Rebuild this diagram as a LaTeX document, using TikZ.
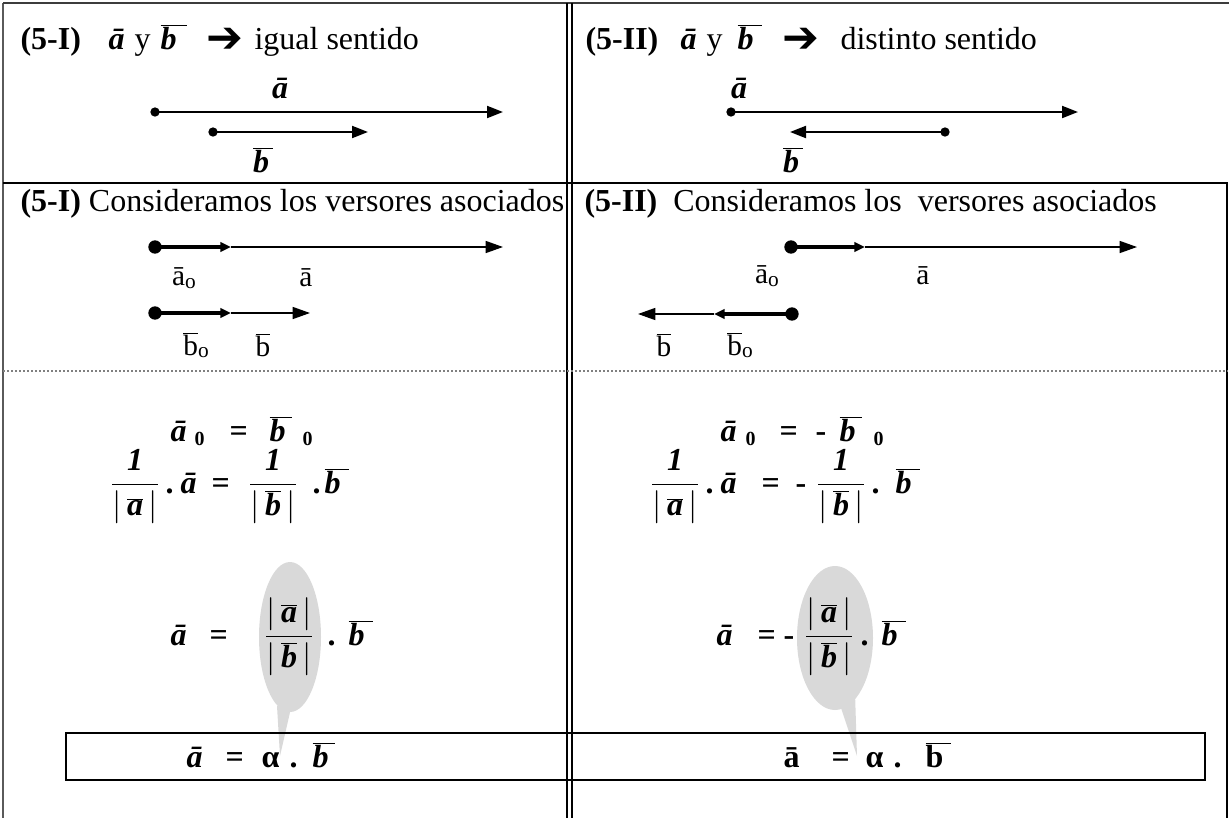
\documentclass[tikz,border=0pt]{standalone}
\usepackage{fontspec}
\setmainfont{Liberation Serif}
\newfontfamily\arrowfont{DejaVu Sans}
\usetikzlibrary{arrows.meta}

\newcommand{\bi}{\bfseries\itshape}
\newcommand{\va}{{\bi ā}}
\newcommand{\vbk}[1]{$\overline{\hbox{\bi b\kern#1}}$}
\newcommand{\vb}{\vbk{3pt}}
\newcommand{\vbup}{$\overline{\hbox{\bfseries b\kern6pt}}$}
\newcommand{\modv}[1]{\left|\,\overline{\hbox{\bi #1}}\,\right|}
\newcommand{\subz}{\raisebox{-3pt}{\fontsize{15}{15}\selectfont\bfseries 0}}
\newcommand{\subo}{\raisebox{-2pt}{\fontsize{16}{16}\selectfont o}}
\newcommand{\lbar}[1]{$\overline{\hbox{#1}}$}

\tikzset{every picture/.style={line width=0.75pt}}
\tikzset{
  txt/.style={inner sep=0pt, font=\fontsize{24}{29}\selectfont},
  eqn/.style={inner sep=0pt, anchor=base west, font=\fontsize{24}{29}\selectfont\bfseries},
  frc/.style={inner sep=0pt, anchor=base, font=\fontsize{24}{29}\selectfont},
  lbl/.style={inner sep=0pt, font=\fontsize{22}{26}\selectfont},
  hdarr/.style={inner sep=0pt, anchor=base west, font=\arrowfont\fontsize{33}{38}\selectfont\bfseries},
  vec/.style={line width=1.5pt, -{Triangle[length=12pt,width=9pt]}},
  unitvec/.style={line width=3.5pt, -{Triangle[length=8pt,width=7pt]}},
  thinvec/.style={line width=1.1pt, -{Triangle[length=13pt,width=9pt]}},
  frame/.style={line width=1.5pt},
  bubble/.style={fill={rgb,255:red,217;green,217;blue,217}},
}

\begin{document}
\begin{tikzpicture}[x=0.75pt,y=0.75pt,yscale=-1,xscale=1]
  \useasboundingbox (0,0) rectangle (1229,818);

  %Table frame
  \draw [frame, color={rgb, 255:red, 90; green, 90; blue, 90 }] (3,3) -- (3,818) ;
  \draw [frame, color={rgb, 255:red, 60; green, 60; blue, 60 }] (3,3) -- (1229,3) ;
  \draw [frame] (567,3) -- (567,818) ;
  \draw [frame] (572,3) -- (572,818) ;
  \draw [line width=2pt] (3,183) -- (1228,183) ;
  \draw [frame] (1227,183) -- (1227,818) ;
  \draw [color=gray, line width=1.2pt, dash pattern={on 1.5pt off 1.5pt}] (3,371) -- (1228,371) ;

  %Row 1 headings
  \node [eqn, font=\fontsize{24}{29}\selectfont] (numIa) at (20,49) {\textbf{(5-I)}};
  \node [eqn] (hIa) at (108,49) {\va};
  \node [eqn, font=\fontsize{24}{29}\selectfont] (hIy) at (134,49) {y};
  \node [eqn] (hIb) at (160,49) {\vbk{8pt}};
  \node [hdarr] (hIarr) at (206,52) {➔};
  \node [eqn, font=\fontsize{24}{29}\selectfont] (hIt) at (254,49) {igual sentido};
  \node [eqn, font=\fontsize{24}{29}\selectfont] (numIIa) at (585,49) {\textbf{(5-II)}};
  \node [eqn] (hIIa) at (680,49) {\va};
  \node [eqn, font=\fontsize{24}{29}\selectfont] (hIIy) at (706,49) {y};
  \node [eqn] (hIIb) at (737,49) {\vbk{6pt}};
  \node [hdarr] (hIIarr) at (782,52) {➔};
  \node [eqn, font=\fontsize{24}{29}\selectfont] (hIIt) at (840,49) {distinto sentido};

  %Row 1 vectors, same sense
  \coordinate (aIs) at (155,112); \coordinate (aIe) at (503,112);
  \coordinate (bIs) at (213,132); \coordinate (bIe) at (368,132);
  \fill (aIs) circle (3.5pt); \draw [vec] (aIs) -- (aIe) ;
  \fill (bIs) circle (3.5pt); \draw [vec] (bIs) -- (bIe) ;
  \node [txt] (laI) at (280,88) {\va};
  \node [txt] (lbI) at (263,160) {\vb};

  %Row 1 vectors, opposite sense
  \coordinate (aIIs) at (731,112); \coordinate (aIIe) at (1078,112);
  \coordinate (bIIs) at (945,132); \coordinate (bIIe) at (790,132);
  \fill (aIIs) circle (3.5pt); \draw [vec] (aIIs) -- (aIIe) ;
  \fill (bIIs) circle (3.5pt); \draw [vec] (bIIs) -- (bIIe) ;
  \node [txt] (laII) at (739,88) {\va};
  \node [txt] (lbII) at (793,160) {\vb};

  %Row 2 headings
  \node [txt, anchor=base west] (headIb) at (20,211) {\textbf{(5-I)} Consideramos los versores asociados};
  \node [txt, anchor=base west] (headIIb) at (584,211) {\textbf{(5-II)}\ \ Consideramos los\ \ versores asociados};

  %Row 2 versors, same sense
  \coordinate (vaIs) at (155,247); \coordinate (vaIm) at (231,247); \coordinate (vaIe) at (503,247);
  \coordinate (vbIs) at (155,313); \coordinate (vbIm) at (231,313); \coordinate (vbIe) at (310,313);
  \fill (vaIs) circle (5pt); \draw [unitvec] (vaIs) -- (vaIm) ; \draw [thinvec] (vaIm) -- (vaIe) ;
  \fill (vbIs) circle (5pt); \draw [unitvec] (vbIs) -- (vbIm) ; \draw [thinvec] (vbIm) -- (vbIe) ;
  \node [lbl] (laoI) at (184,278) {ā\subo};
  \node [lbl] (laI2) at (306,278) {ā};
  \node [lbl] (lboI) at (196,345) {\lbar{b}\subo};
  \node [lbl] (lbI2) at (263,345) {\lbar{b}};

  %Row 2 versors, opposite sense
  \coordinate (vaIIs) at (791,247); \coordinate (vaIIm) at (865,247); \coordinate (vaIIe) at (1137,247);
  \coordinate (vbIIs) at (792,314); \coordinate (vbIIm) at (714,314); \coordinate (vbIIe) at (638,314);
  \fill (vaIIs) circle (5pt); \draw [unitvec] (vaIIs) -- (vaIIm) ; \draw [thinvec] (vaIIm) -- (vaIIe) ;
  \fill (vbIIs) circle (5pt); \draw [unitvec] (vbIIs) -- (vbIIm) ; \draw [thinvec] (vbIIm) -- (vbIIe) ;
  \node [lbl] (laoII) at (767,276) {ā\subo};
  \node [lbl] (laII2) at (923,276) {ā};
  \node [lbl] (lbII2) at (664,345) {\lbar{b}};
  \node [lbl] (lboII) at (740,345) {\lbar{b}\subo};

  %Callout bubbles
  \fill [bubble] (290,637) ellipse [x radius=31, y radius=75];
  \fill [bubble] (277,706) -- (291,708) -- (280,756) -- cycle;
  \fill [bubble] (835,638) ellipse [x radius=38, y radius=72];
  \fill [bubble] (839,702) -- (855,692) -- (857,756) -- cycle;

  %Result box
  \draw [line width=2pt] (66,733) rectangle (1205,780) ;

  %Equations, same sense
  \node [eqn] (a0I) at (170,441) {\va};
  \node [eqn] (s0I) at (194,441) {\subz};
  \node [eqn] (q0I) at (229,441) {=};
  \node [eqn] (b0I) at (269,441) {\vbk{5pt}};
  \node [eqn] (t0I) at (302,441) {\subz};
  \node [frc] (f1I) at (135,493) {$\displaystyle\frac{\hbox{\bi 1}}{\modv{a}}$};
  \node [eqn] (d1I) at (165,493) {.};
  \node [eqn] (a1I) at (180,493) {\va};
  \node [eqn] (q1I) at (211,493) {=};
  \node [frc] (f2I) at (273,493) {$\displaystyle\frac{\hbox{\bi 1}}{\modv{b}}$};
  \node [eqn] (d2I) at (312,493) {.};
  \node [eqn] (b1I) at (324,493) {\vbk{6pt}};
  \node [eqn] (a2I) at (170,645) {\va};
  \node [eqn] (q2I) at (209,645) {=};
  \node [frc] (f3I) at (289,645) {$\displaystyle\frac{\modv{a}}{\modv{b}}$};
  \node [eqn] (d3I) at (327,645) {.};
  \node [eqn] (b2I) at (348,645) {\vbk{6pt}};
  \node [eqn] (a3I) at (186,767) {\va};
  \node [eqn] (q3I) at (225,767) {=};
  \node [eqn] (alI) at (261,767) {α};
  \node [eqn] (d4I) at (289,767) {.};
  \node [eqn] (b3I) at (312,767) {\vbk{5pt}};

  %Equations, opposite sense
  \node [eqn] (a0II) at (720,441) {\va};
  \node [eqn] (s0II) at (745,441) {\subz};
  \node [eqn] (q0II) at (779,441) {=};
  \node [eqn] (m0II) at (815,441) {-};
  \node [eqn] (b0II) at (839,441) {\vbk{5pt}};
  \node [eqn] (t0II) at (873,441) {\subz};
  \node [frc] (f1II) at (675,493) {$\displaystyle\frac{\hbox{\bi 1}}{\modv{a}}$};
  \node [eqn] (d1II) at (705,493) {.};
  \node [eqn] (a1II) at (720,493) {\va};
  \node [eqn] (q1II) at (761,493) {=};
  \node [eqn] (m1II) at (795,493) {-};
  \node [frc] (f2II) at (841,493) {$\displaystyle\frac{\hbox{\bi 1}}{\modv{b}}$};
  \node [eqn] (d2II) at (871,493) {.};
  \node [eqn] (b1II) at (895,493) {\vbk{6pt}};
  \node [eqn] (a2II) at (716,645) {\va};
  \node [eqn] (q2II) at (757,645) {=};
  \node [eqn] (m2II) at (783,645) {-};
  \node [frc] (f3II) at (829,645) {$\displaystyle\frac{\modv{a}}{\modv{b}}$};
  \node [eqn] (d3II) at (860,645) {.};
  \node [eqn] (b2II) at (881,645) {\vbk{6pt}};
  \node [eqn] (a3II) at (783,767) {ā};
  \node [eqn] (q3II) at (831,767) {=};
  \node [eqn] (alII) at (865,767) {α};
  \node [eqn] (d4II) at (893,767) {.};
  \node [eqn] (b3II) at (925,767) {\vbup};
\end{tikzpicture}
\end{document}
